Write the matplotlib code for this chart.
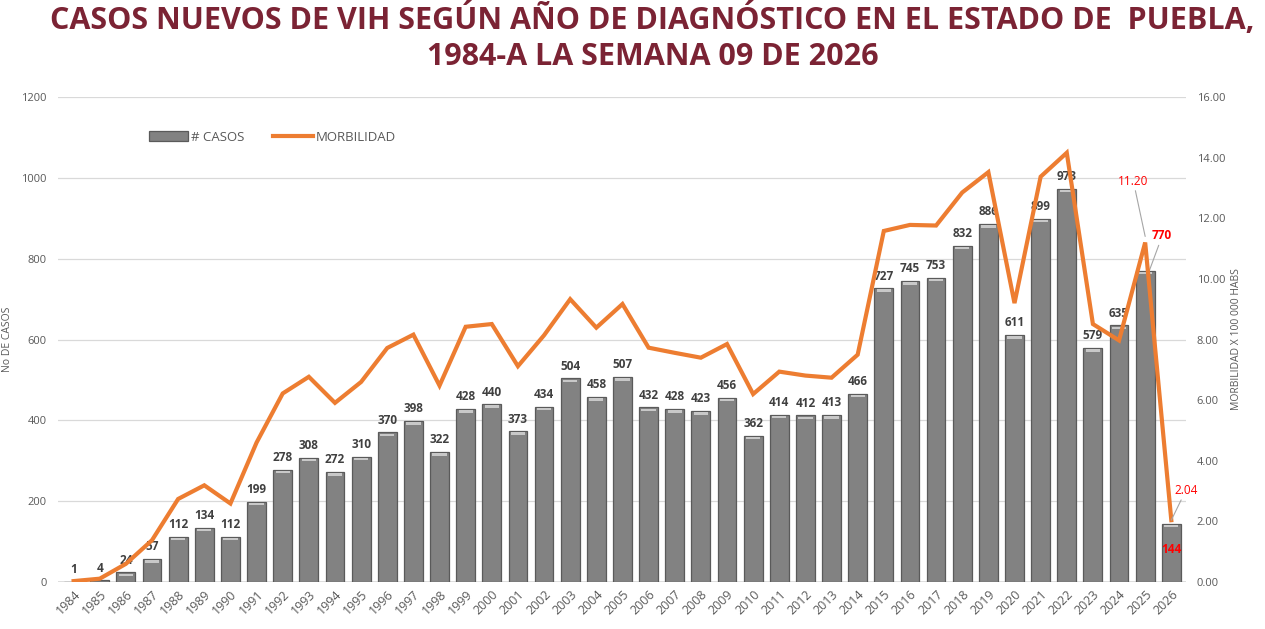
import matplotlib
matplotlib.use("Agg")
import matplotlib.pyplot as plt
from matplotlib.patches import Rectangle
import numpy as np

years = [str(y) for y in range(1984, 2027)]
casos = [1, 4, 24, 57, 112, 134, 112, 199, 278, 308, 272, 310, 370, 398, 322,
         428, 440, 373, 434, 504, 458, 507, 432, 428, 423, 456, 362, 414, 412,
         413, 466, 727, 745, 753, 832, 886, 611, 899, 973, 579, 635, 770, 144]
morbilidad = [0.03, 0.11, 0.6, 1.38, 2.74, 3.19, 2.59, 4.6, 6.22, 6.77, 5.91,
              6.6, 7.72, 8.16, 6.48, 8.42, 8.51, 7.12, 8.14, 9.33, 8.39, 9.17,
              7.73, 7.56, 7.40, 7.85, 6.20, 6.94, 6.81, 6.74, 7.50, 11.58,
              11.78, 11.76, 12.85, 13.52, 9.2, 13.37, 14.16, 8.51, 7.97,
              11.20, 2.04]

plt.rcParams['font.family'] = ['Open Sans', 'DejaVu Sans']

fig = plt.figure(figsize=(12.65, 6.29), dpi=100)
ax = fig.add_axes([0.0458, 0.0747, 0.8915, 0.7711])
ax2 = ax.twinx()

x = np.arange(len(years))
bars = ax.bar(x, casos, width=0.72, color='#828282', edgecolor='#5a5a5a',
              linewidth=0.9, zorder=2)
# bevel highlight at the top of each bar
for r in bars:
    if r.get_height() > 15:
        ax.add_patch(Rectangle((r.get_x() + r.get_width() * 0.12, r.get_height() - 9),
                               r.get_width() * 0.76, 6, color='#c8c8c8', lw=0, zorder=3))

ax.set_ylim(0, 1200)
ax.set_yticks(range(0, 1201, 200))
ax.set_xlim(-0.6, len(years) - 0.45)
ax.grid(axis='y', color='#d9d9d9', lw=0.9, zorder=0)
ax.set_axisbelow(True)
for s in ax.spines.values():
    s.set_visible(False)
for s in ax2.spines.values():
    s.set_visible(False)
ax.axhline(0, color='#d9d9d9', lw=1.2, zorder=1)

ax.set_xticks(x)
ax.set_xticklabels(years, rotation=45, ha='right', rotation_mode='anchor',
                   fontsize=9, color='#595959')
ax.tick_params(axis='both', length=0, pad=4)
ax.tick_params(axis='y', labelsize=8, labelcolor='#595959', pad=8)
ax.set_ylabel('No DE CASOS', fontsize=7.5, color='#595959', labelpad=6)

line, = ax2.plot(x, morbilidad, color='#ED7D31', lw=3, zorder=5,
                 solid_joinstyle='miter')
ax2.set_ylim(0, 16)
ax2.set_yticks(np.arange(0, 16.1, 2))
ax2.set_yticklabels(['%.2f' % v for v in np.arange(0, 16.1, 2)])
ax2.tick_params(axis='y', length=0, labelsize=8, labelcolor='#595959', pad=8)
ax2.set_ylabel('MORBILIDAD X 100 000 HABS', fontsize=7.5, color='#595959',
               labelpad=4)
ax.set_zorder(2)
ax.patch.set_visible(False)
ax2.set_zorder(3)

# data labels
for i, v in enumerate(casos[:-2]):
    ax.text(i, v + 14, str(v), ha='center', va='bottom', fontsize=8.5,
            fontweight='bold', color='#404040', zorder=6)

n = len(years)
ax.annotate(str(casos[-2]), xy=(n - 2 + 0.1, casos[-2] - 10),
            xytext=(n - 2 + 0.65, casos[-2] + 70), ha='center', va='bottom',
            fontsize=8.5, fontweight='bold', color='red',
            arrowprops=dict(arrowstyle='-', color='#a6a6a6', lw=0.8,
                            shrinkA=0, shrinkB=0), zorder=6)
ax.text(n - 1, casos[-1] - 80, str(casos[-1]), ha='center', va='bottom',
        fontsize=8.5, fontweight='bold', color='red', zorder=6)
ax2.annotate('%.2f' % morbilidad[-2], xy=(n - 2, morbilidad[-2] + 0.2),
             xytext=(n - 2.45, 13.0), ha='center', va='bottom',
             fontsize=8.5, color='red',
             arrowprops=dict(arrowstyle='-', color='#a6a6a6', lw=0.8,
                             shrinkA=0, shrinkB=0), zorder=6)
ax2.annotate('%.2f' % morbilidad[-1], xy=(n - 1, morbilidad[-1]),
             xytext=(n - 0.45, 2.8), ha='center', va='bottom',
             fontsize=8.5, color='red',
             arrowprops=dict(arrowstyle='-', color='#a6a6a6', lw=0.8,
                             shrinkA=0, shrinkB=0), zorder=6)

leg = ax.legend([bars, line], ['# CASOS', 'MORBILIDAD'], loc='upper left',
                bbox_to_anchor=(0.07, 0.955), ncol=2, frameon=False,
                fontsize=9.5, columnspacing=2.2, handlelength=3.0,
                handletextpad=0.2, labelcolor='#595959')

fig.text(0.516, 0.995, 'CASOS NUEVOS DE VIH SEGÚN AÑO DE DIAGNÓSTICO EN EL ESTADO DE  PUEBLA,\n1984-A LA SEMANA 09 DE 2026',
         ha='center', va='top', fontsize=22, fontweight='bold', color='#7B2334',
         linespacing=1.25)

fig.savefig('out.png', dpi=100, facecolor='white')
